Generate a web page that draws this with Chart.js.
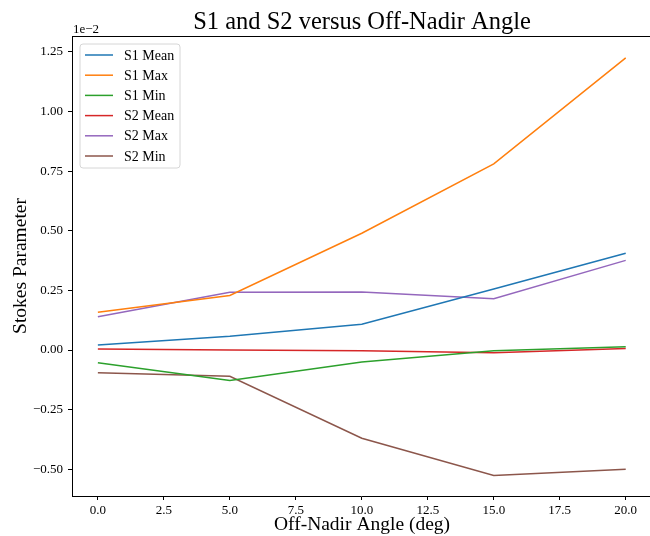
<!DOCTYPE html>
<html>
<head>
<meta charset="utf-8">
<script src="https://cdn.jsdelivr.net/npm/chart.js@4.4.1/dist/chart.umd.min.js"></script>
<style>
  html, body { margin: 0; padding: 0; background: #fff; overflow: hidden; }
  #wrap { width: 650px; height: 536px; position: relative; }
</style>
</head>
<body>
<div id="wrap"><canvas id="c" width="650" height="536"></canvas></div>
<script>
// Off-nadir angles (deg)
const angles = [0, 5, 10, 15, 20];

// Stokes parameters, in units of 1e-2
const s1Mean = [0.021, 0.058, 0.108, 0.256, 0.406];
const s1Max  = [0.159, 0.229, 0.490, 0.781, 1.225];
const s1Min  = [-0.053, -0.128, -0.050, -0.003, 0.014];
const s2Mean = [0.004, 0.000, -0.003, -0.011, 0.007];
const s2Max  = [0.140, 0.242, 0.243, 0.215, 0.376];
const s2Min  = [-0.095, -0.110, -0.370, -0.526, -0.500];

const seriesNames = ['S1 Mean', 'S1 Max', 'S1 Min', 'S2 Mean', 'S2 Max', 'S2 Min'];
const seriesValues = [s1Mean, s1Max, s1Min, s2Mean, s2Max, s2Min];
const seriesColors = ['#1f77b4', '#ff7f0e', '#2ca02c', '#d62728', '#9467bd', '#8c564b'];

const xTicks = [0, 2.5, 5, 7.5, 10, 12.5, 15, 17.5, 20];
const yTicks = [-0.50, -0.25, 0.00, 0.25, 0.50, 0.75, 1.00, 1.25];

const SERIF = '"Liberation Serif", "Times New Roman", serif';
const fmt = (v, d) => Number(v).toFixed(d).replace('-', '\u2212');

const datasets = seriesNames.map((name, i) => ({
  label: name,
  data: angles.map((a, j) => ({ x: a, y: seriesValues[i][j] })),
  borderColor: seriesColors[i],
  backgroundColor: seriesColors[i],
  borderWidth: 1.5,
  pointRadius: 0,
  tension: 0,
  fill: false
}));

// Figure decorations: frame top edge, title, axis labels, offset text, legend
const decorations = {
  id: 'decorations',
  afterDraw(chart) {
    const ctx = chart.ctx;
    const a = chart.chartArea;
    ctx.save();
    // top spine
    ctx.strokeStyle = '#000';
    ctx.lineWidth = 1;
    ctx.beginPath();
    ctx.moveTo(a.left, a.top + 0.5);
    ctx.lineTo(a.right, a.top + 0.5);
    ctx.stroke();

    ctx.fillStyle = '#000';
    // title
    ctx.font = '24.5px ' + SERIF;
    ctx.textAlign = 'center';
    ctx.textBaseline = 'alphabetic';
    ctx.fillText('S1 and S2 versus Off-Nadir Angle', 362, 29);

    // x label
    ctx.font = '19.5px ' + SERIF;
    ctx.fillText('Off-Nadir Angle (deg)', 362, 530);

    // y label
    ctx.save();
    ctx.translate(26, 266);
    ctx.rotate(-Math.PI / 2);
    ctx.fillText('Stokes Parameter', 0, 0);
    ctx.restore();

    // offset text
    ctx.font = '13px ' + SERIF;
    ctx.textAlign = 'left';
    ctx.fillText('1e\u22122', 73, 33);

    // legend
    const bx = 80, by = 44, bw = 100, bh = 124, r = 3;
    ctx.beginPath();
    ctx.moveTo(bx + r, by);
    ctx.lineTo(bx + bw - r, by);
    ctx.quadraticCurveTo(bx + bw, by, bx + bw, by + r);
    ctx.lineTo(bx + bw, by + bh - r);
    ctx.quadraticCurveTo(bx + bw, by + bh, bx + bw - r, by + bh);
    ctx.lineTo(bx + r, by + bh);
    ctx.quadraticCurveTo(bx, by + bh, bx, by + bh - r);
    ctx.lineTo(bx, by + r);
    ctx.quadraticCurveTo(bx, by, bx + r, by);
    ctx.closePath();
    ctx.fillStyle = 'rgba(255,255,255,0.8)';
    ctx.fill();
    ctx.strokeStyle = '#d6d6d6';
    ctx.lineWidth = 1;
    ctx.stroke();

    ctx.font = '14px ' + SERIF;
    ctx.textBaseline = 'middle';
    chart.data.datasets.forEach((ds, i) => {
      const y = 55 + i * 20.2;
      ctx.strokeStyle = ds.borderColor;
      ctx.lineWidth = 1.5;
      ctx.beginPath();
      ctx.moveTo(85, y);
      ctx.lineTo(113, y);
      ctx.stroke();
      ctx.fillStyle = '#000';
      ctx.fillText(ds.label, 124, y + 1);
    });
    ctx.restore();
  }
};

new Chart(document.getElementById('c'), {
  type: 'line',
  data: { datasets },
  options: {
    responsive: false,
    animation: false,
    devicePixelRatio: 1,
    layout: { padding: { top: 36, right: 0, bottom: 0, left: 0 } },
    plugins: {
      legend: { display: false },
      title: { display: false },
      tooltip: { enabled: false }
    },
    scales: {
      x: {
        type: 'linear',
        min: -0.98,
        max: 20.92,
        afterFit(scale) { scale.height = 40; },
        afterBuildTicks(scale) { scale.ticks = xTicks.map(v => ({ value: v })); },
        grid: {
          drawOnChartArea: false,
          drawTicks: true,
          tickLength: 4,
          color: '#000',
          tickColor: '#000'
        },
        border: { display: true, color: '#000', width: 1 },
        ticks: {
          color: '#000',
          padding: 3,
          maxRotation: 0,
          autoSkip: false,
          font: { family: SERIF, size: 13 },
          callback: v => fmt(v, 1)
        }
      },
      y: {
        type: 'linear',
        min: -0.612,
        max: 1.317,
        afterFit(scale) { scale.width = 72; },
        afterBuildTicks(scale) { scale.ticks = yTicks.map(v => ({ value: v })); },
        grid: {
          drawOnChartArea: false,
          drawTicks: true,
          tickLength: 4,
          color: '#000',
          tickColor: '#000'
        },
        border: { display: true, color: '#000', width: 1 },
        ticks: {
          color: '#000',
          padding: 5,
          autoSkip: false,
          font: { family: SERIF, size: 13 },
          callback: v => fmt(v, 2)
        }
      }
    }
  },
  plugins: [decorations]
});
</script>
</body>
</html>
